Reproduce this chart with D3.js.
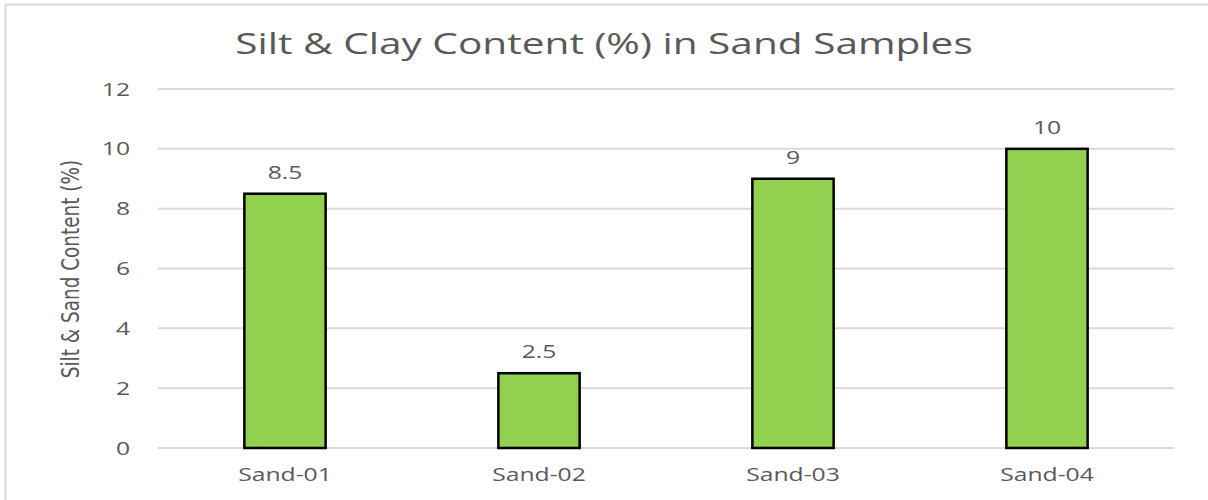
<!DOCTYPE html>
<html>
<head>
<meta charset="utf-8">
<script src="https://cdn.jsdelivr.net/npm/d3@7"></script>
<style>
body { margin: 0; background: #fff; }
svg text { font-family: "Open Sans", "DejaVu Sans", sans-serif; fill: #595959; }
</style>
</head>
<body>
<div class="container"></div>
<script>
const wd = 1208
const ht = 500

// chart data
const samples = ["Sand-01", "Sand-02", "Sand-03", "Sand-04"]
const content = [8.5, 2.5, 9, 10]
const yTicks = [0, 2, 4, 6, 8, 10, 12]

// the picture is stretched sideways, so the text gets stretched too
const stretch = "scale(1.3,1)"

const svgC = d3.select(".container")
.append("svg")
.attr("width", wd)
.attr("height", ht)

// chart area border (only top & left visible in the shot)
svgC.append("path")
.attr("d", "M5.5,500 L5.5,4.5 L1208,4.5")
.attr("fill", "none")
.style("stroke", "#d9d9d9")
.style("stroke-width", "2px")

const pLeft = 158, pRight = 1174, pTop = 89, pBottom = 448

const x = d3.scaleBand()
.domain(samples)
.range([pLeft, pRight])
.paddingInner(0.68)
.paddingOuter(0.34)

const y = d3.scaleLinear()
.domain([0, 12])
.range([pBottom, pTop])

// gridlines
svgC.append("g")
.selectAll("line")
.data(yTicks)
.enter()
.append("line")
.attr("x1", pLeft)
.attr("x2", pRight)
.attr("y1", d => y(d))
.attr("y2", d => y(d))
.style("stroke", "#d9d9d9")
.style("stroke-width", "2px")

// y axis labels
const yAxis = d3.axisLeft(y).tickValues(yTicks).tickSize(0).tickPadding(0)
const gy = svgC.append("g")
.attr("transform", `translate(130,0)`)
.call(yAxis)
gy.select(".domain").remove()
gy.selectAll("text")
.style("font-size", "19px")
.style("font-family", "\"Open Sans\", sans-serif")
.attr("fill", "#595959")
.attr("transform", stretch)

// bars
svgC.append("g")
.selectAll("rect")
.data(content)
.enter()
.append("rect")
.attr("x", (d, i) => x(samples[i]))
.attr("y", d => y(d))
.attr("width", x.bandwidth())
.attr("height", d => y(0) - y(d))
.attr("fill", "#92d050")
.style("stroke", "#000")
.style("stroke-width", "2.5px")

// data labels
svgC.append("g")
.selectAll("g")
.data(content)
.enter()
.append("g")
.attr("transform", (d, i) => `translate(${x(samples[i]) + x.bandwidth() / 2},${y(d) - 15})`)
.append("text")
.attr("text-anchor", "middle")
.attr("transform", stretch)
.style("font-size", "19px")
.text(d => d)

// x axis labels
const xAxis = d3.axisBottom(x).tickSize(0).tickPadding(0)
const gx = svgC.append("g")
.attr("transform", `translate(0,${pBottom + 20})`)
.call(xAxis)
gx.select(".domain").remove()
gx.selectAll("text")
.style("font-size", "19px")
.style("font-family", "\"Open Sans\", sans-serif")
.attr("fill", "#595959")
.attr("transform", stretch)

// title
svgC.append("g")
.attr("transform", "translate(604,54)")
.append("text")
.attr("text-anchor", "middle")
.attr("transform", "scale(1.4,1)")
.style("font-size", "29px")
.text("Silt & Clay Content (%) in Sand Samples")

// y axis title
svgC.append("text")
.attr("transform", "translate(79,269) rotate(-90) scale(1,1.2)")
.attr("text-anchor", "middle")
.style("font-family", "\"Liberation Sans Narrow\", \"DejaVu Sans Condensed\", sans-serif")
.style("font-size", "20.5px")
.text("Silt & Sand Content (%)")
</script>
</body>
</html>
